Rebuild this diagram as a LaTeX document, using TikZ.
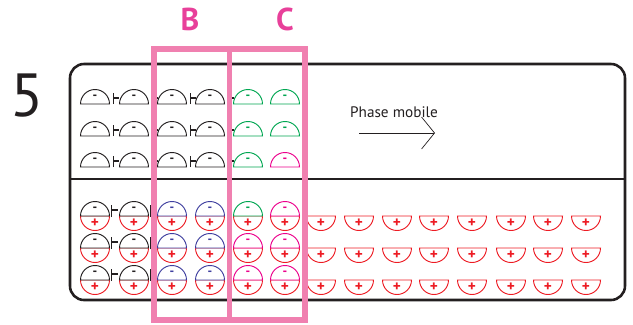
\documentclass[tikz,border=0pt]{standalone}
\usepackage{fontspec}
\setmainfont{PT Sans}
\usetikzlibrary{arrows.meta,positioning}

\definecolor{ink}{RGB}{35,31,32}
\definecolor{framepink}{RGB}{240,128,176}
\definecolor{labelpink}{RGB}{232,64,154}
\definecolor{ionred}{RGB}{237,28,36}
\definecolor{ionblue}{RGB}{63,63,159}
\definecolor{iongreen}{RGB}{0,166,81}
\definecolor{ionpink}{RGB}{236,0,140}

\begin{document}
\begin{tikzpicture}[x=0.03cm, y=0.03cm,
    frame/.style={draw=ink, line width=2.2pt, rounded corners=0.42cm},
    column/.style={draw=framepink, line width=4.3pt},
    shell/.style={line width=0.8pt, fill=white},
    minus/.style={font=\bfseries\fontsize{11}{11}\selectfont, inner sep=0pt},
    plus/.style={font=\bfseries\fontsize{13}{13}\selectfont, inner sep=0pt, text=ionred},
    link/.style={draw=ink, line width=0.9pt},
    flow/.style={draw=ink, line width=0.6pt, -{Straight Barb[length=3.9mm, width=9.6mm]}}
]
\useasboundingbox (0,0) rectangle (633,-324);

% Column with stationary phase
\draw[frame] (70,-64) rectangle (625,-300);
\draw[ink, line width=2.2pt] (70,-179) -- (625,-179);

% Mobile phase: free anions
\foreach \y/\clast [count=\r] in {104/iongreen,136/iongreen,167/ionpink} {
  \foreach \x/\col [count=\c] in {95/ink,134/ink,172/ink,210/ink,248/iongreen,285/\clast} {
    \draw[shell, draw=\col] (\x-14.5,-\y) arc[start angle=180, end angle=0, radius=14.5] -- cycle;
    \node[minus, text=\col] (top\r-\c) at (\x,-\y+7) {-};
  }
  % links between the first anions
  \foreach \x in {95,134,172,210} {
    \draw[link] (\x+18.5,-\y) -- (\x+18.5,-\y+11);
    \draw[link] (\x+18.5,-\y+6) -- (\x+24,-\y+6);
  }
}

% Stationary phase: bound anions
\foreach \y/\cfive [count=\r] in {216/iongreen,248/ionpink,280/ionpink} {
  \foreach \x/\col [count=\c] in {95/ink,134/ink,172/ionblue,210/ionblue,248/\cfive,285/ionpink} {
    \draw[shell, draw=ionred] (\x-14.5,-\y) arc[start angle=180, end angle=360, radius=14.5] -- cycle;
    \draw[shell, draw=\col] (\x-14.5,-\y) arc[start angle=180, end angle=0, radius=14.5] -- cycle;
    \node[minus, text=\col] (neg\r-\c) at (\x,-\y+7) {-};
    \node[plus] (pos\r-\c) at (\x,-\y-7) {+};
  }
  \foreach \x in {95,134} {
    \draw[link] (\x+16.5,-\y-1) -- (\x+16.5,-\y+11);
    \draw[link] (\x+16.5,-\y+6) -- (\x+23,-\y+6);
  }
  % free cationic sites
  \foreach \x [count=\c] in {321,359,397,434,472,511,548,586} {
    \draw[shell, draw=ionred] (\x-14.5,-\y) arc[start angle=180, end angle=360, radius=14.5] -- cycle;
    \node[plus] (site\r-\c) at (\x,-\y-7) {+};
  }
}

% Fractions B and C
\draw[column] (154,-49) rectangle (229.5,-320);
\draw[column] (229.5,-49) rectangle (305,-320);
\node[font=\bfseries\fontsize{27}{27}\selectfont, text=labelpink] (fracB) at (190,-19) {B};
\node[font=\bfseries\fontsize{27}{27}\selectfont, text=labelpink] (fracC) at (285,-19) {C};

% Step number
\node[font=\fontsize{52}{52}\selectfont, text=ink] (stage) at (27,-96) {5};

% Flow direction
\node[font=\fontsize{13}{13}\selectfont, text=ink] (mobile) at (394,-112) {Phase mobile};
\coordinate (flowstart) at (359,-133);
\coordinate (flowend) at (435,-133);
\draw[flow] (flowstart) -- (flowend);

\end{tikzpicture}
\end{document}
